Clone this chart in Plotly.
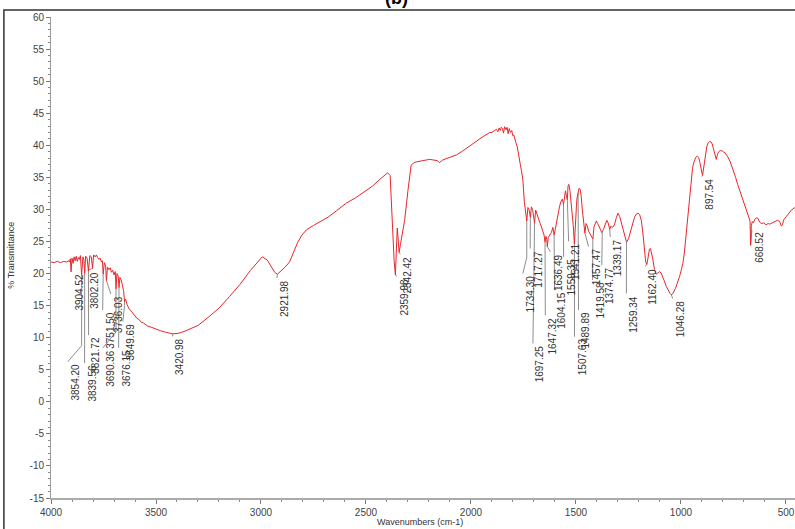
import numpy as np
import plotly.graph_objects as go

# ---------------- spectrum (wavenumber, % transmittance) ----------------
wavenumber = [
    4000, 3985, 3970, 3955, 3940, 3925, 3915, 3911, 3908, 3904.52, 3900, 3895, 3890, 3885, 3880,
    3875, 3870, 3865, 3860, 3854.20, 3848, 3843, 3839.56, 3835, 3828, 3821.72, 3815, 3808,
    3802.20, 3797, 3790, 3784, 3778, 3772, 3766, 3760, 3755, 3751.50, 3746, 3740, 3736.03,
    3731, 3724, 3718, 3712, 3706, 3700, 3694, 3690.36, 3686, 3680, 3676.15, 3672, 3666, 3660,
    3654, 3649.69, 3645, 3638, 3630, 3620, 3610, 3600, 3590, 3580, 3570, 3560, 3550, 3540,
    3520, 3500, 3480, 3460, 3440, 3420.98, 3400, 3380, 3350, 3300, 3250, 3200, 3150, 3100,
    3050, 3020, 2994, 2970, 2950, 2935, 2921.98, 2905, 2885, 2864, 2845, 2826, 2805, 2784,
    2750, 2721, 2680, 2640, 2593, 2550, 2516, 2470, 2430, 2397, 2385, 2374, 2366, 2359.98,
    2356, 2351, 2346, 2342.42, 2336, 2326, 2316, 2300, 2285, 2270, 2261, 2230, 2197, 2160,
    2150, 2135, 2100, 2069, 2040, 2007, 1975, 1945, 1910, 1900, 1888, 1879, 1872, 1866, 1860,
    1856, 1850, 1845, 1840, 1833, 1828, 1823, 1818, 1812, 1806, 1801, 1796, 1791, 1786, 1780,
    1775, 1772, 1765, 1760, 1753, 1746, 1740, 1734.30, 1729, 1724, 1717.27, 1712, 1706,
    1697.25, 1692, 1686, 1681, 1675, 1670, 1663, 1657, 1652, 1647.32, 1643, 1639, 1636.49,
    1632, 1625, 1617, 1610, 1604.15, 1598, 1590, 1584, 1578, 1572, 1565, 1559.35, 1554, 1550,
    1545, 1541.21, 1538, 1534, 1529, 1524, 1518, 1513, 1507.63, 1503, 1498, 1495, 1489.89,
    1485, 1480, 1475, 1470, 1466, 1461, 1457.47, 1452, 1446, 1440, 1434, 1428, 1419.58, 1414,
    1408, 1403, 1397, 1390, 1384, 1378, 1374.77, 1368, 1360, 1353, 1347, 1342, 1339.17, 1334,
    1328, 1322, 1316, 1308, 1300, 1292, 1284, 1275, 1266, 1259.34, 1250, 1240, 1230, 1221,
    1212, 1205, 1197, 1189, 1182, 1175, 1168, 1162.40, 1156, 1150, 1145, 1140, 1134, 1126,
    1118, 1110, 1102, 1095, 1088, 1080, 1070, 1060, 1052, 1046.28, 1038, 1026, 1015, 1007,
    998, 991, 984, 978, 972, 967, 961, 956, 950, 945, 940, 930, 922, 916, 911, 905, 899.5,
    897.54, 894, 888, 882, 877, 870, 864, 857, 851, 845, 840, 835, 832, 826, 820, 812, 803,
    790, 777, 765, 753, 740, 730, 721, 710, 697, 685, 675, 671, 668.52, 665, 660, 655, 649,
    640, 633, 625, 617, 605, 595, 585, 578, 565, 550, 540, 530, 522, 517, 510, 498, 490, 480,
    474, 466, 457,
]
transmittance = [
    21.8, 21.7, 21.9, 21.7, 21.9, 21.8, 22.0, 21.8, 22.3, 20.3, 22.4, 21.6, 22.6, 22.0, 22.7,
    21.9, 22.5, 22.2, 22.8, 19.8, 22.6, 22.1, 20.0, 22.7, 22.4, 20.4, 22.8, 22.6,
    20.8, 22.9, 22.6, 22.9, 22.5, 22.2, 22.4, 21.8, 22.0, 19.9, 21.7, 21.2, 18.9,
    21.0, 20.6, 20.9, 20.2, 20.5, 19.8, 20.3, 17.6, 20.0, 19.6, 17.8, 19.4, 19.0, 18.2,
    17.2, 15.6, 16.0, 15.2, 14.6, 14.2, 13.8, 13.3, 13.0, 12.8, 12.4, 12.3, 12.0, 11.8,
    11.6, 11.3, 11.1, 10.9, 10.7, 10.6, 10.65, 10.8, 11.2, 11.9, 13.2, 14.6, 16.4, 18.3,
    20.5, 21.7, 22.6, 22.1, 21.0, 20.2, 19.9, 20.4, 21.0, 21.8, 23.3, 24.8, 26.0, 26.8,
    27.5, 28.0, 28.8, 29.8, 31.0, 31.8, 32.6, 33.6, 34.8, 35.7, 35.3, 27.3, 22.0, 19.8,
    22.5, 27.1, 25.0, 23.3, 24.5, 26.5, 28.3, 33.0, 36.9, 37.3, 37.4, 37.6, 37.8, 37.6,
    37.3, 37.7, 38.1, 38.5, 39.1, 39.8, 40.6, 41.3, 42.0, 42.0, 42.3, 42.5, 42.1, 42.7, 42.3,
    42.8, 42.6, 41.9, 42.9, 42.4, 42.8, 41.8, 42.6, 42.0, 42.3, 41.5, 41.6, 40.7, 40.4, 39.8,
    38.6, 38.2, 37.0, 36.1, 34.6, 31.2, 29.4, 28.2, 30.3, 30.0, 28.8, 30.4, 29.8,
    27.9, 29.9, 29.2, 28.9, 28.2, 27.8, 27.2, 26.4, 26.0, 24.9, 25.8, 25.3, 24.2,
    25.6, 25.9, 26.4, 27.2, 26.0, 27.0, 28.6, 29.8, 30.5, 31.2, 31.6, 30.8, 32.4, 32.9,
    32.0, 31.5, 33.6, 33.9, 33.0, 31.5, 29.9, 27.5, 24.6, 28.6, 30.4, 31.8, 32.6,
    33.3, 33.1, 32.0, 30.0, 28.6, 27.2, 26.3, 27.8, 27.4, 26.6, 26.2, 26.0, 25.4, 27.3,
    27.9, 28.2, 27.8, 27.4, 26.9, 26.4, 26.5, 27.0, 27.8, 28.3, 27.9, 27.1, 26.9, 27.4,
    27.2, 27.3, 27.7, 28.7, 29.4, 28.9, 27.9, 26.6, 25.3, 24.9, 25.4, 26.6, 27.9, 28.8,
    29.3, 29.4, 29.2, 28.3, 26.5, 23.5, 21.8, 21.4, 22.8, 23.8, 23.9, 23.3, 22.2, 20.6,
    19.9, 20.1, 20.3, 20.1, 19.6, 18.9, 18.0, 17.3, 16.9, 16.7, 16.9, 17.7, 18.6, 19.5,
    20.6, 21.6, 23.2, 25.2, 27.4, 29.4, 31.6, 33.5, 35.3, 36.4, 37.2, 38.1, 38.3, 38.1, 37.5, 36.2, 35.4,
    35.3, 36.0, 37.7, 38.9, 39.8, 40.4, 40.6, 40.5, 40.2, 39.4, 38.6, 37.9, 37.8, 38.6, 39.0, 39.2, 39.1,
    38.8, 38.2, 37.4, 36.4, 35.0, 33.9, 33.0, 32.0, 30.9, 29.7, 28.6, 28.2, 24.4, 27.5, 28.1, 27.9, 28.4,
    28.7, 28.6, 28.0, 27.8, 27.9, 27.6, 27.8, 27.7, 27.9, 28.2, 28.3, 28.1, 27.4, 27.6, 28.4, 28.9, 29.3, 29.6,
    29.9, 30.1, 30.3,
]

# ---------------- peak labels ----------------
peak_wn = [3904.52, 3854.20, 3839.56, 3821.72, 3802.20, 3751.50, 3736.03, 3690.36, 3676.15,
           3649.69, 3420.98, 2921.98, 2359.98, 2342.42, 1734.30, 1717.27, 1697.25, 1647.32,
           1636.49, 1604.15, 1559.35, 1541.21, 1507.63, 1489.89, 1457.47, 1419.58, 1374.77,
           1339.17, 1259.34, 1162.40, 1046.28, 897.54, 668.52]
# where each leader line ends (label anchor) and the top of each label
label_anchor_wn = [3900, 3920, 3840, 3821, 3826, 3754, 3715, 3753, 3678,
                   3658, 3421, 2924, 2353, 2337, 1753, 1718, 1705, 1646,
                   1622, 1602, 1559, 1535, 1507, 1488, 1440, 1421, 1377,
                   1337, 1260, 1172, 1039, 900, 662]
label_top = [20.3, 6.25, 6.05, 10.4, 20.5, 14.3, 16.8, 8.4, 8.4,
             12.5, 10.2, 19.3, 19.5, 23.0, 20.0, 23.9, 9.1, 13.5,
             23.4, 17.4, 22.6, 25.0, 10.15, 14.3, 24.2, 19.0, 21.3,
             25.7, 16.9, 21.1, 16.1, 35.1, 26.8]

x_ticks = [4000, 3500, 3000, 2500, 2000, 1500, 1000, 500]
y_ticks = [60, 55, 50, 45, 40, 35, 30, 25, 20, 15, 10, 5, 0, -5, -10, -15]

FONT = "Liberation Sans, Arial, sans-serif"

wn_arr = np.array(wavenumber, dtype=float)
tr_arr = np.array(transmittance, dtype=float)
order = np.argsort(wn_arr)
dip_y = np.interp(peak_wn, wn_arr[order], tr_arr[order])

# leader lines
lx, ly = [], []
for pw, dy, aw, top in zip(peak_wn, dip_y, label_anchor_wn, label_top):
    if abs(aw - pw) > 8:
        knee = min(dy, top + 2.5)
        lx += [pw, pw, aw, None]
        ly += [dy, knee, top, None]
    else:
        lx += [pw, aw, None]
        ly += [dy, top, None]

fig = go.Figure()
fig.add_trace(go.Scatter(x=lx, y=ly, mode="lines",
                         line=dict(color="#707070", width=0.8),
                         hoverinfo="skip", showlegend=False))
fig.add_trace(go.Scatter(x=wavenumber, y=transmittance, mode="lines",
                         line=dict(color="#e8262b", width=1),
                         showlegend=False))

annotations = []
for pw, aw, top in zip(peak_wn, label_anchor_wn, label_top):
    annotations.append(dict(
        x=aw, y=top, xref="x", yref="y", text=f"{pw:.2f}", showarrow=False,
        textangle=-90, xanchor="left", yanchor="top", xshift=0,
        font=dict(family=FONT, size=10, color="#333333")))

annotations.append(dict(x=-0.053, y=0.505, xref="paper", yref="paper",
                        text="% Transmittance", showarrow=False, textangle=-90,
                        xanchor="center", yanchor="middle",
                        font=dict(family=FONT, size=9, color="#333333")))
annotations.append(dict(x=0.4957, y=-0.05, xref="paper", yref="paper",
                        text="Wavenumbers (cm-1)", showarrow=False,
                        xanchor="center", yanchor="middle",
                        font=dict(family=FONT, size=9, color="#333333")))
annotations.append(dict(x=0.4648, y=1.04, xref="paper", yref="paper",
                        text="<b>(b)</b>", showarrow=False,
                        xanchor="center", yanchor="middle",
                        font=dict(family=FONT, size=18, color="#000000")))

fig.update_layout(
    width=795, height=529,
    margin=dict(l=51, r=0, t=17, b=31),
    paper_bgcolor="white", plot_bgcolor="white",
    annotations=annotations,
    shapes=[dict(type="rect", xref="paper", yref="paper",
                 x0=-0.0633, y0=-0.2, x1=1.05, y1=1.0146,
                 line=dict(color="#333333", width=1.5))],
    xaxis=dict(range=[4000, 457], tickvals=x_ticks, ticktext=[str(v) for v in x_ticks],
               ticks="outside", ticklen=4,
               tickcolor="#777", showline=True, linecolor="#aaaaaa", linewidth=2,
               showgrid=False, zeroline=False,
               tickfont=dict(family=FONT, size=10, color="#444444"),
               minor=dict(dtick=100, ticks="outside", ticklen=2, tickcolor="#888")),
    yaxis=dict(range=[-15, 60], tickvals=y_ticks, ticktext=[str(v) for v in y_ticks],
               ticks="outside", ticklen=4,
               tickcolor="#777", showline=True, linecolor="#999999", linewidth=1,
               showgrid=False, zeroline=False,
               tickfont=dict(family=FONT, size=10, color="#444444"),
               minor=dict(dtick=1, ticks="outside", ticklen=2, tickcolor="#888")),
)

fig.write_html("out.html", config={"displayModeBar": False},
               post_script="document.body.style.margin='0px';document.body.style.overflow='hidden';")
